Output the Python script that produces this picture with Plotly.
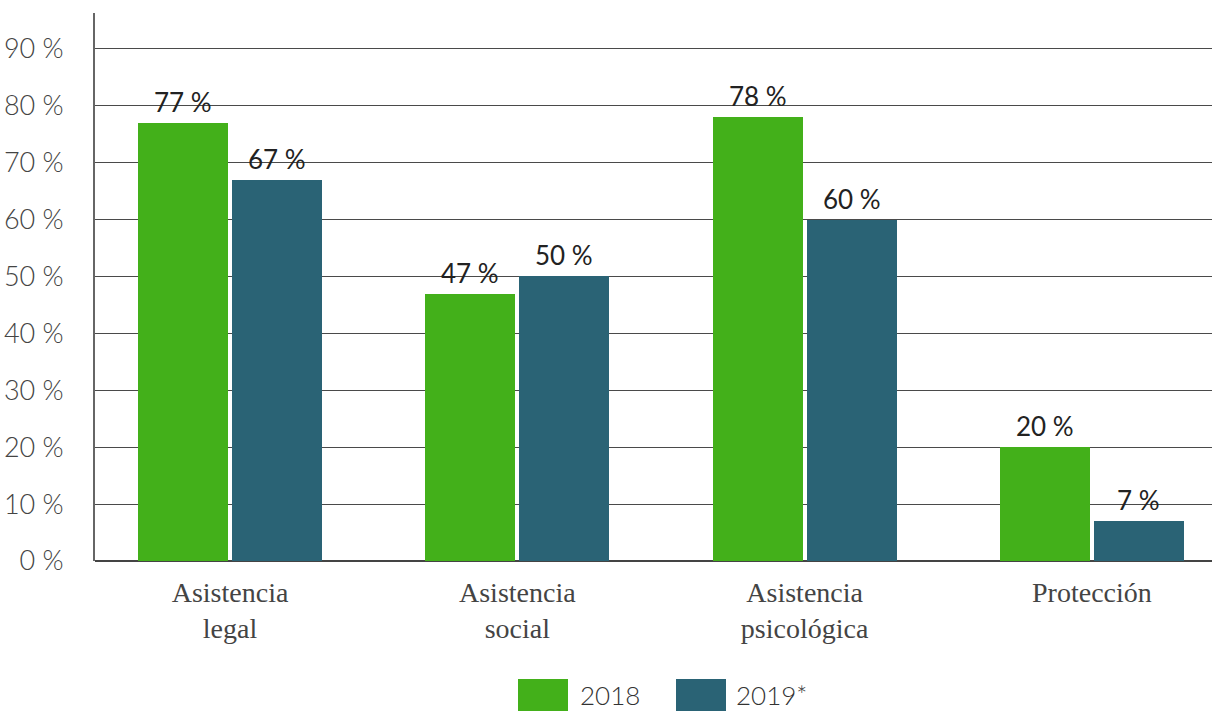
import plotly.graph_objects as go

# Service categories and yearly shares (percent)
categories = ["Asistencia<br>legal", "Asistencia<br>social", "Asistencia<br>psicológica", "Protección"]
values_2018 = [77, 47, 78, 20]
values_2019 = [67, 50, 60, 7]
series_names = ["2018", "2019*"]
y_ticks = [0, 10, 20, 30, 40, 50, 60, 70, 80, 90]
y_tick_labels = [f"{t} %" for t in y_ticks]

GREEN = "#43B01A"
TEAL = "#2A6375"
W, H = 1212, 711
L, T, B = 95, 13, 150

positions = list(range(len(categories)))
bar_w = 0.313

fig = go.Figure()
for vals, name, color, off in [(values_2018, series_names[0], GREEN, -0.320),
                               (values_2019, series_names[1], TEAL, 0.007)]:
    fig.add_trace(go.Bar(
        x=positions, y=vals, name=name, width=bar_w, offset=off,
        marker=dict(color=color, line=dict(width=0)), showlegend=False,
    ))
    for p, v in zip(positions, vals):
        fig.add_annotation(
            x=p + off + bar_w / 2, y=v, xref="x", yref="y",
            text=f"{v} %", showarrow=False, yanchor="middle", yshift=21,
            font=dict(family="Lato", size=26, color="#222222"),
        )

# Legend drawn as swatches + labels under the plot
pw = W - L
ph = H - T - B
def px_x(px):
    return (px - L) / pw
def px_y(py):
    return (H - B - py) / ph

legend_items = [(518, 568, 578, GREEN, series_names[0]), (676, 726, 734, TEAL, series_names[1])]
for x0, x1, tx, color, name in legend_items:
    fig.add_shape(type="rect", xref="paper", yref="paper",
                  x0=px_x(x0), x1=px_x(x1), y0=px_y(711), y1=px_y(679),
                  fillcolor=color, line=dict(width=0))
    fig.add_annotation(xref="paper", yref="paper", x=px_x(tx), y=px_y(695),
                       text=name, showarrow=False, xanchor="left", yanchor="middle",
                       font=dict(family="Lato", size=26, color="#333333", weight=300))

fig.update_layout(
    width=W, height=H,
    margin=dict(l=L, r=0, t=T, b=B, pad=0),
    paper_bgcolor="white", plot_bgcolor="white",
    bargap=0, showlegend=False,
    xaxis=dict(
        range=[-0.47, 3.418], tickvals=positions, ticktext=categories,
        showgrid=False, zeroline=False, showline=False, ticks="",
        tickfont=dict(family="Liberation Serif", size=28, color="#444444"),
        ticklabelstandoff=12,
    ),
    yaxis=dict(
        range=[0, 96.3], tickvals=y_ticks, ticktext=y_tick_labels,
        showgrid=True, gridcolor="#4a4a4a", gridwidth=1,
        zeroline=True, zerolinecolor="#444444", zerolinewidth=1.5,
        showline=True, linecolor="#666666", linewidth=2,
        ticks="", tickfont=dict(family="Lato", size=27, color="#444444", weight=300),
        ticklabelstandoff=24,
    ),
)

fig.write_html("out.html")
